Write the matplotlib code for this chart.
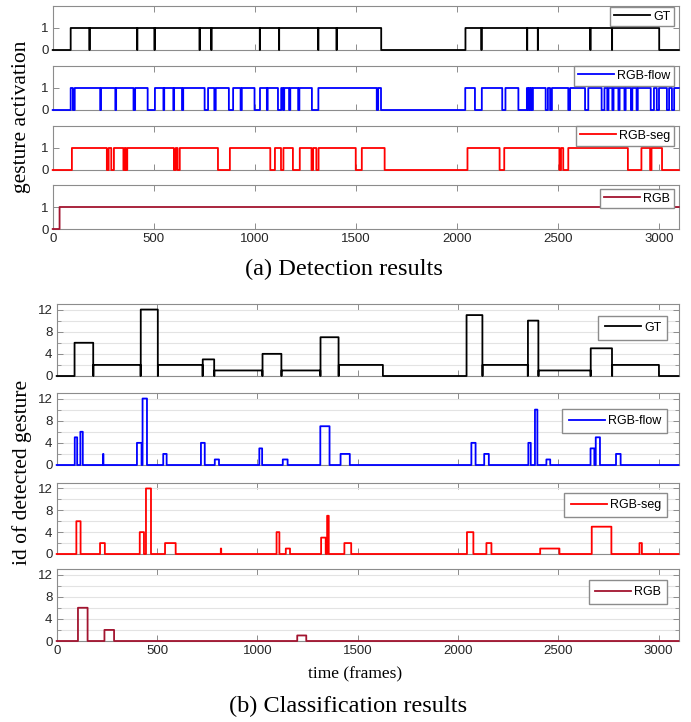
import numpy as np
from matplotlib import pyplot as plt
from matplotlib.ticker import MultipleLocator

n_frames = 3100

# ground truth segments (start frame, end frame, gesture id)
gt_start = [88, 182, 418, 504, 727, 785, 1025, 1120, 1314, 1405, 2042, 2122, 2348, 2401, 2661, 2768]
gt_end = [182, 418, 504, 727, 785, 1025, 1120, 1314, 1405, 1626, 2122, 2348, 2401, 2661, 2768, 3002]
gt_id = [6, 2, 12, 2, 3, 1, 4, 1, 7, 2, 11, 2, 10, 1, 5, 2]

# detection: frames where a gesture is active
flow_on = [(88, 100), (108, 235), (238, 310), (313, 400), (407, 470), (505, 548), (551, 597),
           (600, 640), (645, 752), (768, 800), (806, 872), (892, 930), (935, 999),
           (1025, 1060), (1063, 1115), (1130, 1140), (1145, 1170), (1175, 1215),
           (1220, 1283), (1314, 1604), (1610, 1625),
           (2041, 2090), (2123, 2225), (2240, 2305), (2346, 2352), (2356, 2362),
           (2366, 2372), (2376, 2440), (2450, 2462), (2470, 2552), (2560, 2635),
           (2650, 2717), (2730, 2745), (2750, 2770), (2775, 2800), (2805, 2830),
           (2835, 2862), (2868, 2890), (2895, 2960), (2975, 2990), (3000, 3040),
           (3050, 3065), (3075, 3100)]
seg_on = [(94, 268), (276, 290), (302, 350), (356, 362), (368, 600), (608, 618), (628, 818),
          (876, 1077), (1099, 1130), (1141, 1189), (1222, 1281), (1288, 1305),
          (1315, 1500), (1529, 1643), (2052, 2212), (2234, 2508), (2515, 2527),
          (2551, 2847), (2913, 2957), (2963, 3016)]
rgb_on = [(33, 3100)]

# classification: (start, end, predicted id)
flow_cls = [(89, 102, 5), (117, 130, 6), (230, 233, 2), (399, 423, 4), (427, 450, 12),
            (530, 548, 2), (718, 738, 4), (787, 809, 1), (1009, 1024, 3), (1126, 1151, 1),
            (1313, 1360, 7), (1414, 1461, 2), (2066, 2088, 4), (2130, 2154, 2),
            (2350, 2363, 4), (2383, 2396, 10), (2440, 2460, 1), (2660, 2680, 3),
            (2686, 2708, 5), (2787, 2811, 2)]
seg_cls = [(97, 119, 6), (215, 240, 2), (413, 435, 4), (444, 470, 12), (539, 593, 2),
           (817, 820, 1), (1095, 1110, 4), (1141, 1163, 1), (1317, 1341, 3), (1347, 1356, 7),
           (1433, 1468, 2), (2044, 2077, 4), (2141, 2167, 2), (2409, 2506, 1),
           (2666, 2765, 5), (2904, 2917, 2)]
rgb_cls = [(105, 154, 6), (237, 286, 2), (1198, 1244, 1)]


def to_frames(segs):
    arr = np.zeros(n_frames)
    for seg in segs:
        s, e = seg[0], seg[1]
        v = seg[2] if len(seg) > 2 else 1
        arr[s + 1:e] = v
    return arr


frames = np.arange(n_frames)
gt_cls_sig = to_frames(list(zip(gt_start, gt_end, gt_id)))
gt_det_sig = (gt_cls_sig > 0).astype(float)

det_series = [("GT", gt_det_sig, "black"),
              ("RGB-flow", to_frames(flow_on), "#0000ff"),
              ("RGB-seg", to_frames(seg_on), "#ff0000"),
              ("RGB", to_frames(rgb_on), "#A2142F")]
cls_series = [("GT", gt_cls_sig, "black"),
              ("RGB-flow", to_frames(flow_cls), "#0000ff"),
              ("RGB-seg", to_frames(seg_cls), "#ff0000"),
              ("RGB", to_frames(rgb_cls), "#A2142F")]

W, H = 691, 722
fig = plt.figure(figsize=(W / 100, H / 100), dpi=100)
sans = "Liberation Sans"
serif = "Liberation Serif"
frame_col = "#8c8c8c"
txt_col = "#262626"


def style(ax):
    for sp in ax.spines.values():
        sp.set_color(frame_col)
        sp.set_linewidth(0.8)
    ax.set_xlim(0, n_frames)
    ax.set_xticks(np.arange(0, 3001, 500))
    ax.tick_params(direction="in", top=True, right=True, length=4.5, width=0.7,
                   color=frame_col, labelsize=9.5, labelcolor=txt_col, pad=3)
    ax.tick_params(which="minor", direction="in", right=True, length=3, width=0.6,
                   color=frame_col)
    for lab in ax.get_xticklabels() + ax.get_yticklabels():
        lab.set_fontfamily(sans)


# (a) detection panels: top edge / bottom edge in pixels
det_box = [(6, 50), (66, 110), (126, 170), (185, 229)]
det_leg = [0.98, 1.0, 1.0, 0.91]
for i, ((name, sig, col), (t, b)) in enumerate(zip(det_series, det_box)):
    ax = fig.add_axes([52.7 / W, 1 - b / H, 626.3 / W, (b - t) / H])
    ax.plot(frames, sig, drawstyle="steps-post", color=col, lw=1.3, clip_on=False,
            zorder=5, label=name)
    ax.set_ylim(0, 2)
    ax.set_yticks([0, 1])
    style(ax)
    if i < 3:
        ax.set_xticklabels([])
    ax.legend(loc="upper right", bbox_to_anchor=(0.992, det_leg[i]), borderaxespad=0,
              fancybox=False, edgecolor=frame_col, framealpha=1,
              prop={"family": sans, "size": 9}, handlelength=2.9,
              handletextpad=0.25, borderpad=0.3)

# (b) classification panels
cls_box = [(304, 376), (393, 465), (483, 554), (569, 641)]
cls_leg = [0.84, 0.78, 0.86, 0.85]
for i, ((name, sig, col), (t, b)) in enumerate(zip(cls_series, cls_box)):
    ax = fig.add_axes([56.7 / W, 1 - b / H, 621.9 / W, (b - t) / H])
    ax.plot(frames, sig, drawstyle="steps-post", color=col, lw=1.3, clip_on=False,
            zorder=5, label=name)
    ax.set_ylim(0, 13)
    ax.set_yticks([0, 4, 8, 12])
    ax.yaxis.set_minor_locator(MultipleLocator(2))
    ax.grid(axis="y", which="both", color="#e3e3e3", lw=0.8)
    ax.set_axisbelow(True)
    style(ax)
    if i < 3:
        ax.set_xticklabels([])
    ax.legend(loc="upper right", bbox_to_anchor=(0.982, cls_leg[i]), borderaxespad=0,
              fancybox=False, edgecolor=frame_col, framealpha=1,
              prop={"family": sans, "size": 9}, handlelength=2.9,
              handletextpad=0.25, borderpad=0.5)

fig.text(22 / W, 1 - 117 / H, "gesture activation", rotation=90, ha="center",
         va="center", family=serif, fontsize=15.5)
fig.text(22 / W, 1 - 472 / H, "id of detected gesture", rotation=90, ha="center",
         va="center", family=serif, fontsize=15.5)
fig.text(355 / W, 1 - 674 / H, "time (frames)", ha="center", va="center",
         family=serif, fontsize=12.5)
fig.text(344 / W, 1 - 269 / H, "(a) Detection results", ha="center", va="center",
         family=serif, fontsize=17.5)
fig.text(348 / W, 1 - 706 / H, "(b) Classification results", ha="center", va="center",
         family=serif, fontsize=17.5)

fig.savefig("out.png", dpi=100)
